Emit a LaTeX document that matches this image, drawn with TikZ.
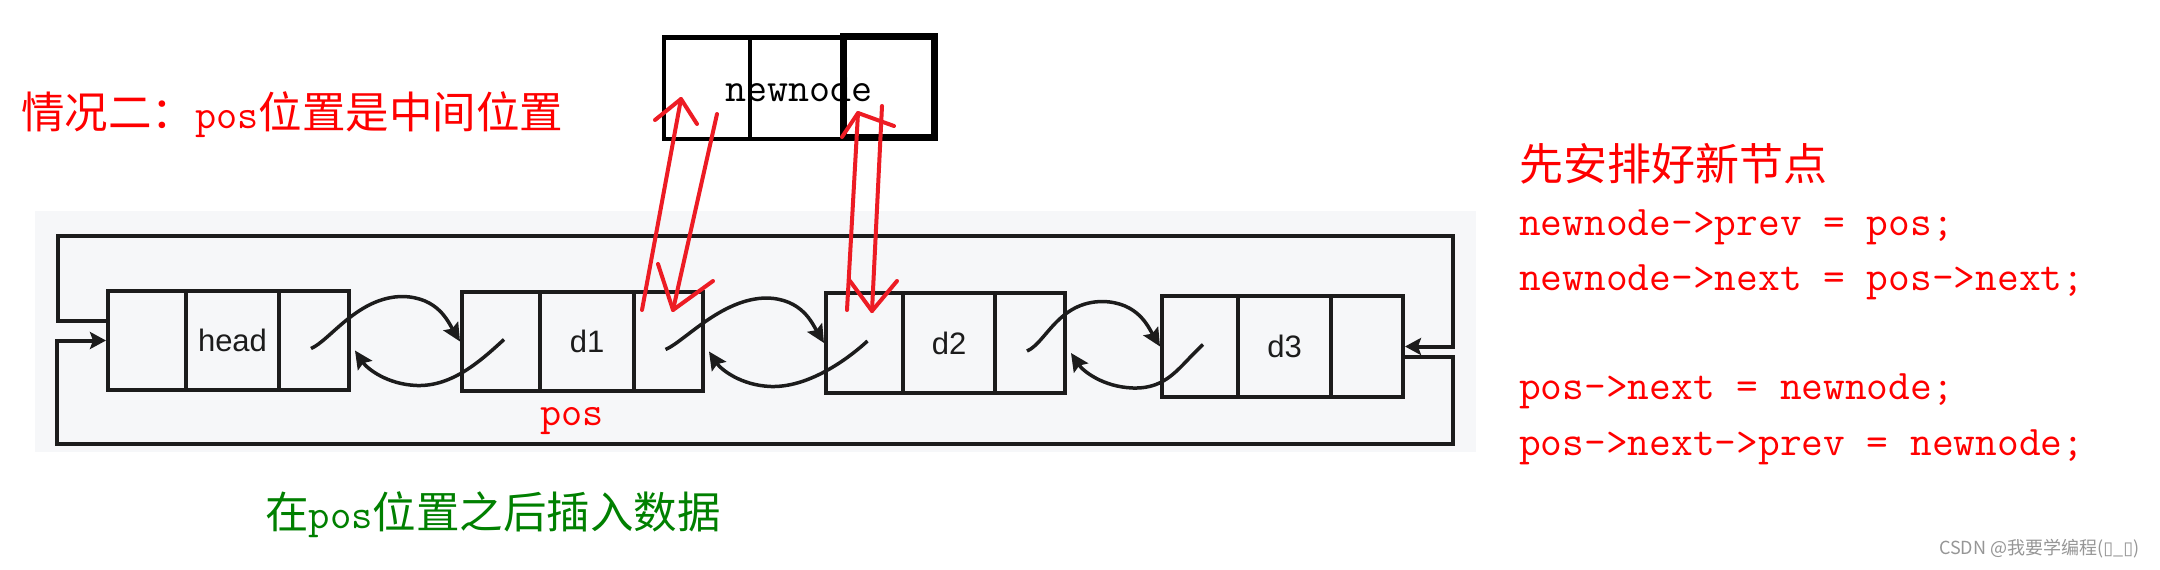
\documentclass[tikz,border=0pt]{standalone}
\usepackage{fontspec}
\usetikzlibrary{arrows.meta,calc}
\newfontfamily\cjk{Noto Sans CJK SC}
\newfontfamily\lsans{Liberation Sans}
\newfontfamily\djv{DejaVu Sans}
\definecolor{ink}{RGB}{28,28,28}
\definecolor{panel}{RGB}{246,247,249}
\definecolor{pen}{RGB}{237,28,36}
\definecolor{txtred}{RGB}{255,0,0}
\definecolor{txtgreen}{RGB}{0,128,0}
\definecolor{wm}{RGB}{150,150,150}
\newcommand\fs[1]{\fontsize{#1}{#1}\selectfont}
% name, x0, x1, x2, x3, ytop, ybot, label
\newcommand\listnode[8]{%
  \node[cell, minimum width={#3-#2}, minimum height={#7-#6}] (#1P) at ({(#2+#3)/2},{(#6+#7)/2}) {};
  \node[cell, minimum width={#4-#3}, minimum height={#7-#6}] (#1D) at ({(#3+#4)/2},{(#6+#7)/2}) {#8};
  \node[cell, minimum width={#5-#4}, minimum height={#7-#6}] (#1N) at ({(#4+#5)/2},{(#6+#7)/2}) {};
}
\newcommand\uplink[2]{%
  \draw[link] ($(#1N.center)+(-3,8)$) .. controls +(19,-8) and +(-45,0) .. ($(#2P.west)+(-57,-45)$)
     .. controls +(35,1) and +(-12,-20) .. (#2P.west);}
\newcommand\downlink[2]{%
  \draw[link] ($(#2P.center)+(3,-2)$) .. controls +(-24,22) and +(35,1) .. ($(#1N.east)+(66,45)$)
     .. controls +(-30,-1) and +(12,18) .. ($(#1N.east)+(4,10)$);}
\begin{document}
\begin{tikzpicture}[x=1pt,y=-1pt,
  cell/.style={draw=ink, line width=4pt, inner sep=0pt, font=\lsans\fs{31}, text=ink},
  nncell/.style={draw=black, line width=4.5pt, inner sep=0pt},
  link/.style={draw=ink, line width=3.5pt, -{Stealth[length=18pt,width=17pt,inset=3pt]}},
  loopline/.style={draw=ink, line width=4pt, -{Stealth[length=16pt,width=17pt,inset=3pt]}},
  penline/.style={draw=pen, line width=4pt, line cap=round, line join=round},
  codetext/.style={anchor=base west, inner sep=0pt, text=txtred, font=\ttfamily\fs{42.2}},
]
\useasboundingbox (0,0) rectangle (2160,570);
\fill[white] (0,0) rectangle (2160,570);
\fill[panel] (35,211) rectangle (1476,452);

% list nodes
\listnode{head}{108}{186}{279}{349}{291}{390}{head}
\listnode{da}{462}{540}{634}{703}{292}{391}{d1}
\listnode{db}{826}{903}{995}{1065}{293}{393}{d2}
\listnode{dc}{1162}{1238}{1331}{1403}{296}{397}{d3}

% links between nodes
\uplink{head}{da}
\downlink{head}{da}
\uplink{da}{db}
\downlink{da}{db}
\uplink{db}{dc}
\downlink{db}{dc}

% circular loops
\coordinate (LT) at (58,236);
\coordinate (RTop) at (1453,236);
\coordinate (RB) at (1453,444);
\coordinate (LB) at (57,444);
\draw[loopline] ($(headP.west)+(0,-20)$) -| (LT) -- (RTop) |- (dcN.east);
\draw[loopline] ($(dcN.east)+(0,10)$) -| (RB) -- (LB) |- (headP.west);

% new node
\node[nncell, minimum width=86pt, minimum height=101.5pt] (nnP) at (707,88) {};
\node[nncell, minimum width=94pt, minimum height=101.5pt] (nnD) at (797,88) {};
\node[nncell, line width=7pt, minimum width=90.5pt, minimum height=101pt] (nnN) at (889,87) {};
\node[anchor=base, inner sep=0pt, font=\ttfamily\fs{40.8}] (nntext) at (799,101) {newnode};

% red hand-drawn arrows
\coordinate (a1s) at (642,310); \coordinate (a1t) at (681,99);
\coordinate (a1l) at (655,120); \coordinate (a1r) at (697,124);
\coordinate (a2s) at (717,114); \coordinate (a2t) at (673,310);
\coordinate (a2l) at (658,264); \coordinate (a2r) at (713,281);
\coordinate (a3s) at (847,310); \coordinate (a3t) at (858,113);
\coordinate (a3l) at (842,137); \coordinate (a3r) at (894,126);
\coordinate (a4s) at (882,106); \coordinate (a4t) at (872,311);
\coordinate (a4l) at (850,281); \coordinate (a4r) at (897,281);
\draw[penline] (a1s) -- (a1t); \draw[penline] (a1l) -- (a1t) -- (a1r);
\draw[penline] (a2s) -- (a2t); \draw[penline] (a2l) -- (a2t) -- (a2r);
\draw[penline] (a3s) -- (a3t); \draw[penline] (a3l) -- (a3t) -- (a3r);
\draw[penline] (a4s) -- (a4t); \draw[penline] (a4l) -- (a4t) -- (a4r);

% texts
\node[anchor=base west, inner sep=0pt, text=txtred] (title) at (21,128)
  {\cjk\fs{43.5}情况二：{\ttfamily\fs{41}pos}位置是中间位置};
\node[anchor=base, inner sep=0pt, text=txtred, font=\ttfamily\fs{41}] (poslabel) at (572,425) {pos};
\node[anchor=base west, inner sep=0pt, text=txtgreen] (caption) at (265,528)
  {\cjk\fs{43.5}在{\ttfamily\fs{41.5}pos}位置之后插入数据};

\node[anchor=base west, inner sep=0pt, text=txtred, font=\cjk\fs{44}] (c0) at (1519,180) {先安排好新节点};
\node[codetext] (c1) at (1519,235) {newnode->prev = pos;};
\node[codetext] (c2) at (1519,290) {newnode->next = pos->next;};
\node[codetext] (c3) at (1519,399.5) {pos->next = newnode;};
\node[codetext] (c4) at (1519,455) {pos->next->prev = newnode;};

\node[anchor=west, inner sep=0pt, text=wm] (wmark) at (1939,549)
  {\cjk\fs{18}CSDN @我要学编程({\djv ▯}\_{\djv ▯})};
\end{tikzpicture}
\end{document}
